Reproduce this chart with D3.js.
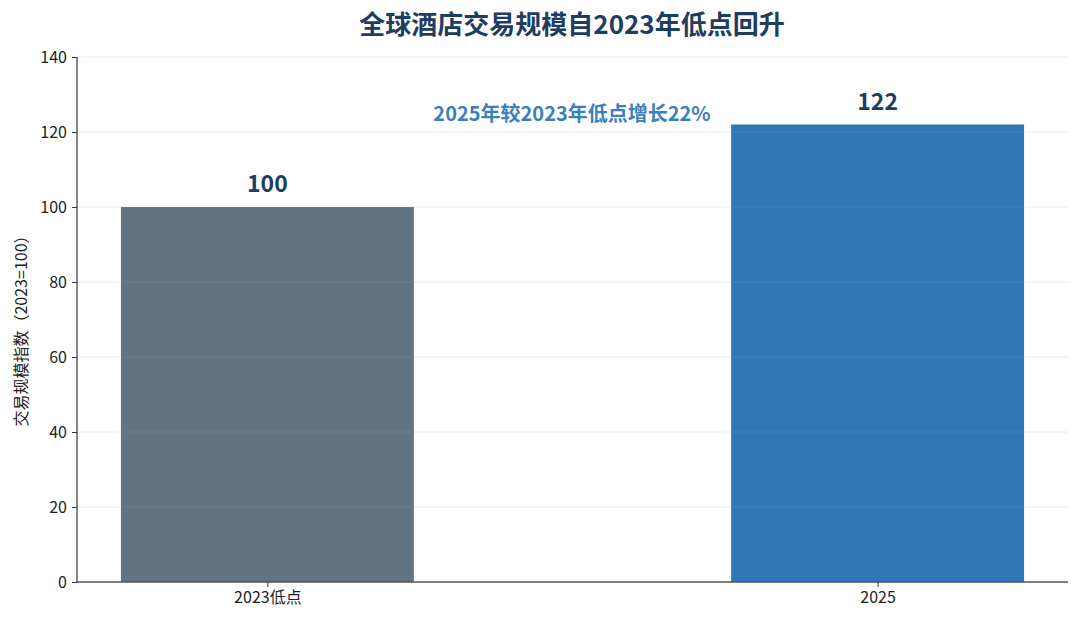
<!DOCTYPE html>
<html>
<head>
<meta charset="utf-8">
<script src="https://cdn.jsdelivr.net/npm/d3@7"></script>
<style>
  body { margin: 0; background: #fff; }
  text { font-family: "Noto Sans CJK SC", "Noto Sans", sans-serif; }
</style>
</head>
<body>
<div class="chart"></div>
<script>
const categories = ['2023低点', '2025']
const values = [100, 122]
const yTicks = [0, 20, 40, 60, 80, 100, 120, 140]
const barColors = ['#627382', '#2e78b6']
const title = '全球酒店交易规模自2023年低点回升'
const yLabel = '交易规模指数（2023=100）'
const note = '2025年较2023年低点增长22%'

const W = 1080, H = 624
const margin = {top: 57, right: 12, bottom: 42, left: 77}
const width = W - margin.left - margin.right,
  height = H - margin.top - margin.bottom

const svg = d3.select('.chart').append('svg')
  .attr('width', W)
  .attr('height', H)

const g = svg.append('g')
  .attr('transform', 'translate(' + margin.left + ',' + margin.top + ')')

// index based x like matplotlib, bars 0.48 wide
const x = d3.scaleLinear().domain([-0.312, 1.312]).range([0, width])
const y = d3.scaleLinear().domain([0, 140]).range([height, 0])
const barW = 0.48

// gridlines behind
g.append('g')
  .selectAll('line')
  .data(yTicks.filter(t => t > 0))
  .join('line')
  .attr('x1', 0)
  .attr('x2', width)
  .attr('y1', d => y(d))
  .attr('y2', d => y(d))
  .attr('stroke', '#ececec')
  .attr('stroke-width', 1)

// bars
g.selectAll('rect.bar')
  .data(values)
  .join('rect')
  .attr('class', 'bar')
  .attr('x', (d, i) => x(i - barW / 2))
  .attr('width', x(barW) - x(0))
  .attr('y', d => y(d))
  .attr('height', d => y(0) - y(d))
  .attr('fill', (d, i) => barColors[i])

// very faint grid over the bars too
g.append('g')
  .selectAll('line')
  .data(yTicks.filter(t => t > 0))
  .join('line')
  .attr('x1', 0)
  .attr('x2', width)
  .attr('y1', d => y(d))
  .attr('y2', d => y(d))
  .attr('stroke', '#ffffff')
  .attr('stroke-opacity', 0.08)
  .attr('stroke-width', 1)

// value labels
g.selectAll('text.val')
  .data(values)
  .join('text')
  .attr('class', 'val')
  .attr('x', (d, i) => x(i))
  .attr('y', d => y(d) - 15)
  .attr('text-anchor', 'middle')
  .attr('font-size', 23)
  .attr('font-weight', 'bold')
  .attr('fill', '#1e3d5f')
  .text(d => d)

// axes
const yAxis = g.append('g')
  .call(d3.axisLeft(y).tickValues(yTicks).tickSize(5).tickPadding(5))
const xAxis = g.append('g')
  .attr('transform', 'translate(0,' + height + ')')
  .call(d3.axisBottom(x).tickValues(categories.map((c, i) => i))
    .tickFormat(i => categories[i]).tickSize(5).tickPadding(5))

;[yAxis, xAxis].forEach(a => {
  a.selectAll('text').attr('font-size', 16).attr('fill', '#222')
    .style('font-family', '"Noto Sans CJK SC", sans-serif')
  a.selectAll('line').attr('stroke', '#333')
  a.select('.domain').attr('stroke', '#333').attr('stroke-width', 1.2)
})
xAxis.select('.domain').attr('d', 'M0,0H' + width).attr('stroke', '#555').attr('stroke-width', 1.6)
yAxis.select('.domain').attr('d', 'M0,0V' + height)

// y axis title
svg.append('text')
  .attr('transform', 'translate(20,' + 327 + ') rotate(-90)')
  .attr('text-anchor', 'middle')
  .attr('dominant-baseline', 'central')
  .attr('font-size', 16)
  .attr('fill', '#222')
  .text(yLabel)

// title
svg.append('text')
  .attr('x', 572)
  .attr('y', 34)
  .attr('text-anchor', 'middle')
  .attr('font-size', 26)
  .attr('font-weight', 'bold')
  .attr('fill', '#1e3d5f')
  .text(title)

// growth note
svg.append('text')
  .attr('x', 572)
  .attr('y', 121)
  .attr('text-anchor', 'middle')
  .attr('font-size', 20)
  .attr('font-weight', 'bold')
  .attr('fill', '#3a80bd')
  .text(note)
</script>
</body>
</html>
